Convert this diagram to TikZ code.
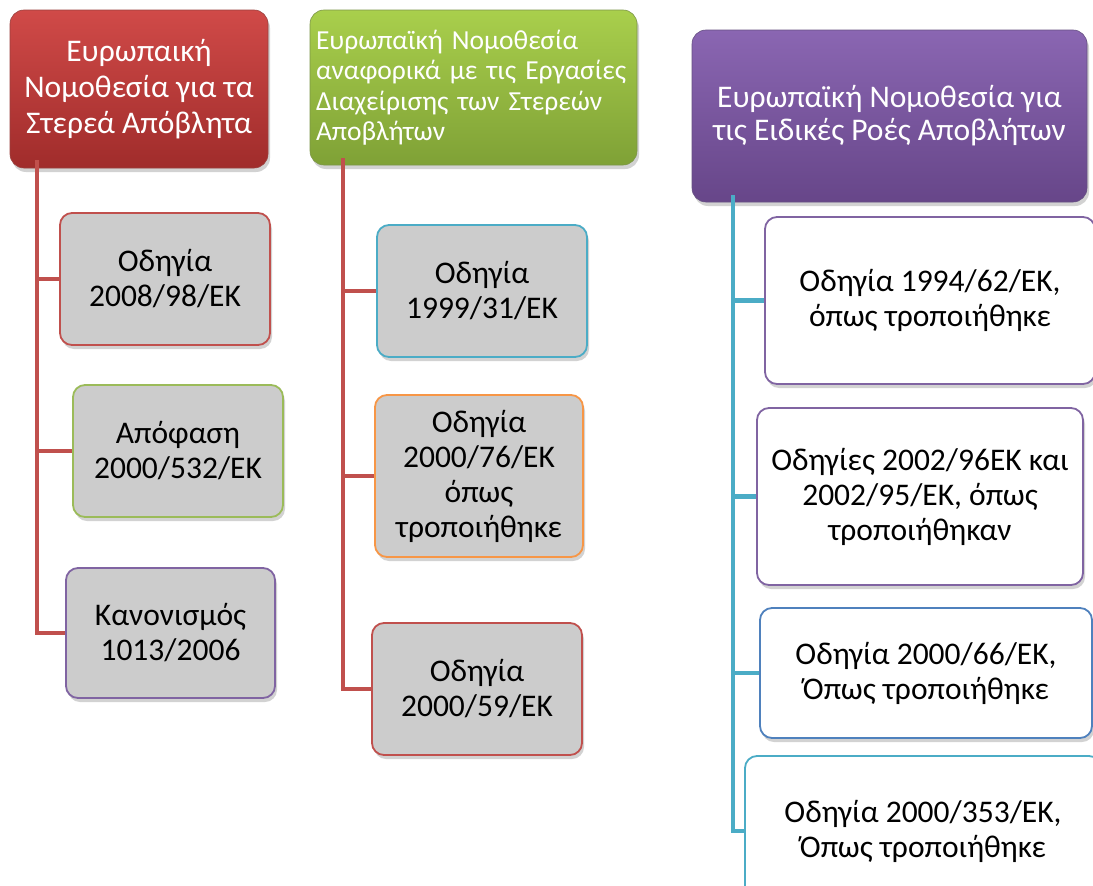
\documentclass[tikz,border=0pt]{standalone}
\usepackage{fontspec}
\setmainfont{Carlito}
\usetikzlibrary{shadows}

\definecolor{cred}{HTML}{C0504D}
\definecolor{credtop}{HTML}{D04A48}
\definecolor{credbot}{HTML}{A02C2B}
\definecolor{cgreen}{HTML}{9BBB59}
\definecolor{cgreentop}{HTML}{A9CF4C}
\definecolor{cgreenbot}{HTML}{7FA136}
\definecolor{cpurple}{HTML}{8064A2}
\definecolor{cpurpletop}{HTML}{8A66B2}
\definecolor{cpurplebot}{HTML}{674689}
\definecolor{cteal}{HTML}{4BACC6}
\definecolor{corange}{HTML}{F79646}
\definecolor{cblue}{HTML}{4F81BD}
\definecolor{cgray}{HTML}{CCCCCC}

\tikzset{
  x=1pt, y=1pt,
  shade/.style={drop shadow={opacity=0.35, shadow xshift=2pt, shadow yshift=-4pt}},
  header/.style={shade, rounded corners=14pt, draw=#1!80!black, line width=0.6pt,
    top color=#1top, bottom color=#1bot, text=white, inner sep=4pt},
  leaf/.style={shade, rounded corners=12pt, draw=#1, line width=1.8pt, fill=cgray,
    text=black, align=center, font=\fontsize{31.5}{35}\selectfont},
  wleaf/.style={shade, rounded corners=12pt, draw=#1, line width=1.8pt, fill=white,
    text=black, align=center, font=\fontsize{31.5}{35}\selectfont},
  redline/.style={draw=cred, line width=4.5pt},
  tealline/.style={draw=cteal, line width=4.5pt},
}

\begin{document}
\begin{tikzpicture}
\clip (0,0) rectangle (1093,-886);
\fill[white] (0,0) rectangle (1093,-886);

% upper ends of the three trunks, hidden under the headers
\coordinate (rtop) at (37,-160);
\coordinate (gtop) at (343,-158);
\coordinate (ptop) at (733,-195);

% ---- column 1: solid waste legislation ----
\node[header=cred, minimum width=258pt, minimum height=158pt, align=center,
      font=\fontsize{31.5}{36}\selectfont] (rh) at (139,-89)
  {Ευρωπαική\\Νομοθεσία για τα\\Στερεά Απόβλητα};

\node[leaf=cred, minimum width=210pt, minimum height=132pt] (b1) at (165,-279)
  {Οδηγία\\2008/98/ΕΚ};
\node[leaf=cgreen, minimum width=210pt, minimum height=132pt] (b2) at (178,-451)
  {Απόφαση\\2000/532/ΕΚ};
\node[leaf=cpurple, minimum width=209pt, minimum height=130pt] (b3) at (170.5,-633)
  {Κανονισμός\\1013/2006};

% ---- column 2: waste management operations ----
\node[header=cgreen, minimum width=327pt, minimum height=155pt, align=left,
      font=\fontsize{27.5}{30.5}\selectfont, text width=315pt] (gh) at (473.5,-87.5)
  {Ευρωπαϊκή Νομοθεσία\\αναφορικά με τις Εργασίες\\Διαχείρισης των Στερεών\\Αποβλήτων};

\node[leaf=cteal, minimum width=210pt, minimum height=132pt] (g1) at (482,-291)
  {Οδηγία\\1999/31/ΕΚ};
\node[leaf=corange, minimum width=208pt, minimum height=162pt] (g2) at (479,-476)
  {Οδηγία\\2000/76/ΕΚ\\όπως\\τροποιήθηκε};
\node[leaf=cred, minimum width=210pt, minimum height=132pt] (g3) at (477,-689)
  {Οδηγία\\2000/59/ΕΚ};

% ---- column 3: specific waste streams ----
\node[header=cpurple, minimum width=395pt, minimum height=172pt, align=center,
      font=\fontsize{31.5}{33}\selectfont] (ph) at (889.5,-116)
  {Ευρωπαϊκή Νομοθεσία για\\τις Ειδικές Ροές Αποβλήτων};

\node[wleaf=cpurple, minimum width=330pt, minimum height=167pt] (p1) at (930,-300.5)
  {Οδηγία 1994/62/ΕΚ,\\όπως τροποιήθηκε};
\node[wleaf=cpurple, minimum width=326pt, minimum height=177pt] (p2) at (920,-496.5)
  {Οδηγίες 2002/96ΕΚ και\\2002/95/ΕΚ, όπως\\τροποιήθηκαν};
\node[wleaf=cblue, minimum width=332pt, minimum height=130pt] (p3) at (926,-673)
  {Οδηγία 2000/66/ΕΚ,\\Όπως τροποιήθηκε};
\node[wleaf=cteal, minimum width=356pt, minimum height=150pt] (p4) at (923,-831)
  {Οδηγία 2000/353/ΕΚ,\\Όπως τροποιήθηκε};

% ---- connectors ----
\draw[redline] (rtop) |- (b3.west);
\draw[redline] (b1.west -| rtop) -- (b1.west);
\draw[redline] (b2.west -| rtop) -- (b2.west);

\draw[redline] (gtop) |- (g3.west);
\draw[redline] (g1.west -| gtop) -- (g1.west);
\draw[redline] (g2.west -| gtop) -- (g2.west);

\draw[tealline] (ptop) |- (p4.west);
\draw[tealline] (p1.west -| ptop) -- (p1.west);
\draw[tealline] (p2.west -| ptop) -- (p2.west);
\draw[tealline] (p3.west -| ptop) -- (p3.west);

\end{tikzpicture}
\end{document}
